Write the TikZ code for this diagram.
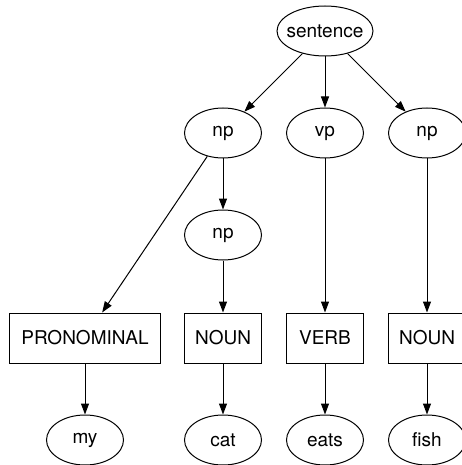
\documentclass[tikz,border=0pt]{standalone}
\usepackage{fontspec}
\setmainfont{TeX Gyre Heros}
\usepackage{tikz}
\usetikzlibrary{arrows.meta,shapes.geometric}

\tikzset{
  phrase/.style={ellipse,draw,line width=1pt,inner sep=0pt,
    minimum width=77pt,minimum height=50pt},
  posbox/.style={rectangle,draw,line width=1pt,inner xsep=8pt,
    minimum width=77pt,minimum height=50pt},
  edge/.style={line width=1pt,-{Triangle[length=11pt,width=8pt]}}
}

\begin{document}
\begin{tikzpicture}[x=1pt,y=-1pt,font=\fontsize{19}{22}\selectfont]
        \useasboundingbox (0,0) rectangle (462,465);
        % ---- top level ----
        \node[phrase,inner xsep=-5pt,minimum width=96pt] (sent) at (325,31) {sentence};
        % ---- phrases ----
        \node[phrase] (npA) at (223,133) {np};
        \node[phrase] (vp)  at (325,133) {vp};
        \node[phrase] (npB) at (427,133) {np};
        \node[phrase] (npC) at (223,235) {np};
        % ---- word classes ----
        \node[posbox,minimum width=151pt] (pron) at (85,338) {PRONOMINAL};
        \node[posbox] (nounA) at (223,338) {NOUN};
        \node[posbox] (verb)  at (325,338) {VERB};
        \node[posbox] (nounB) at (427,338) {NOUN};
        % ---- words ----
        \node[phrase] (my)   at (85,440)  {my};
        \node[phrase] (cat)  at (223,440) {cat};
        \node[phrase] (eats) at (325,440) {eats};
        \node[phrase] (fish) at (427,440) {fish};
        % ---- edges ----
        \draw[edge] (sent) -- (npA);
        \draw[edge] (sent) -- (vp);
        \draw[edge] (sent) -- (npB);
        \draw[edge] (npA) -- (pron);
        \draw[edge] (npA) -- (npC);
        \draw[edge] (npC) -- (nounA);
        \draw[edge] (vp) -- (verb);
        \draw[edge] (npB) -- (nounB);
        \foreach \a/\b in {pron/my, nounA/cat, verb/eats, nounB/fish} {
          \draw[edge] (\a) -- (\b);
        }
      \end{tikzpicture}
\end{document}
